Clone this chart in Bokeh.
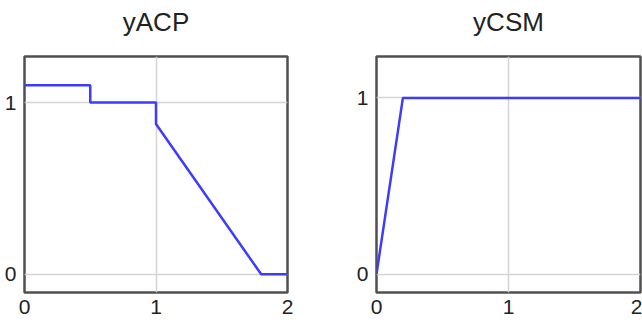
from bokeh.plotting import figure
from bokeh.layouts import row
from bokeh.models import Range1d, FixedTicker, Title
from bokeh.embed import file_html
from bokeh.resources import INLINE

# Data
acp_title = "yACP"
acp_x = [0, 0.5, 0.5, 1, 1, 1.8, 2]
acp_y = [1.1, 1.1, 1.0, 1.0, 0.875, 0, 0]

csm_title = "yCSM"
csm_x = [0, 0.2, 2]
csm_y = [0, 1, 1]

x_ticks = [0, 1, 2]
y_ticks = [0, 1]

FONT = "Liberation Sans"
LINE_COLOR = "#3c3cff"


def make_fig(title, xs, ys, width, y_lo, y_hi, mb_left, mb_right):
    p = figure(width=width, height=323, output_backend="svg", toolbar_location=None,
               x_range=Range1d(0, 2), y_range=Range1d(y_lo, y_hi),
               min_border_left=mb_left, min_border_right=mb_right,
               min_border_top=56, min_border_bottom=31, title=title)
    # blank spacer between the title and the frame
    p.add_layout(Title(text=" ", text_font_size="14px", standoff=0), "above")
    p.title.text_font = FONT
    p.title.text_font_size = "26px"
    p.title.text_font_style = "normal"
    p.title.text_color = "#222222"
    p.title.align = "center"
    p.title.vertical_align = "top"
    p.title.standoff = 0
    p.outline_line_color = "#505050"
    p.outline_line_width = 2.5
    p.background_fill_color = "white"
    p.border_fill_color = "white"
    for ax in (p.xaxis[0], p.yaxis[0]):
        ax.axis_line_color = None
        ax.major_tick_line_color = None
        ax.minor_tick_line_color = None
        ax.major_tick_out = 0
        ax.major_tick_in = 0
        ax.minor_tick_out = 0
        ax.major_label_text_font = FONT
        ax.major_label_text_font_size = "21px"
        ax.major_label_text_color = "#222222"
    p.xaxis[0].ticker = FixedTicker(ticks=x_ticks)
    p.yaxis[0].ticker = FixedTicker(ticks=y_ticks)
    p.xaxis[0].major_label_standoff = 7
    p.yaxis[0].major_label_standoff = 8
    p.xgrid[0].ticker = FixedTicker(ticks=x_ticks)
    p.ygrid[0].ticker = FixedTicker(ticks=y_ticks)
    for g in (p.xgrid[0], p.ygrid[0]):
        g.grid_line_color = "#d4d4d4"
        g.grid_line_width = 1.5
    p.line(xs, ys, line_color=LINE_COLOR, line_width=2.5)
    return p


p1 = make_fig(acp_title, acp_x, acp_y, 321, -0.106, 1.268, 24, 34)
p2 = make_fig(csm_title, csm_x, csm_y, 321, -0.104, 1.235, 55, 2)

layout = row(p1, p2)
open("out.html", "w").write(file_html(layout, INLINE))
